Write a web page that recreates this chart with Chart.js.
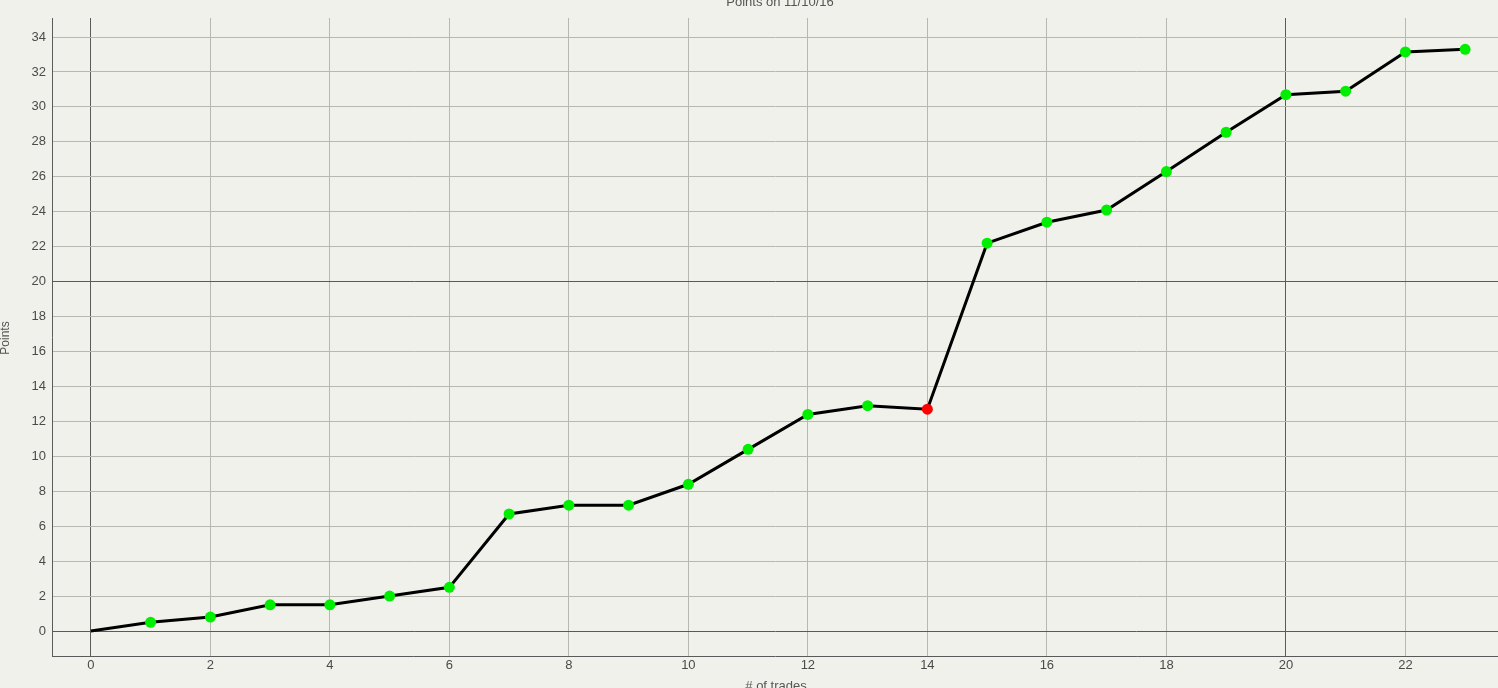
<!DOCTYPE html>
<html>
<head>
<meta charset="utf-8">
<script src="https://cdn.jsdelivr.net/npm/chart.js@4"></script>
<style>
  html, body { margin: 0; padding: 0; background: #f1f1ec; }
  #wrap { width: 1498px; height: 688px; position: relative; }
</style>
</head>
<body>
<div id="wrap"><canvas id="myChart"></canvas></div>
<script>
// datos de la gráfica
const trades = [0, 1, 2, 3, 4, 5, 6, 7, 8, 9, 10, 11, 12, 13, 14, 15, 16, 17, 18, 19, 20, 21, 22, 23];
const points = [0, 0.5, 0.8, 1.5, 1.5, 2.0, 2.5, 6.7, 7.2, 7.2, 8.4, 10.4, 12.4, 12.9, 12.7, 22.2, 23.4, 24.1, 26.3, 28.55, 30.7, 30.9, 33.15, 33.3];
const xTicks = [0, 2, 4, 6, 8, 10, 12, 14, 16, 18, 20, 22];
const yTicks = [0, 2, 4, 6, 8, 10, 12, 14, 16, 18, 20, 22, 24, 26, 28, 30, 32, 34];
const chartTitle = "Points on 11/10/16";
const xTitle = "# of trades";
const yTitle = "Points";

const FONT = "'Liberation Sans', Arial, Helvetica, sans-serif";

// verde si sube o se mantiene, rojo si baja
const pointColors = points.map((v, i) => (i > 0 && v < points[i - 1]) ? "#ff0000" : "#00ee00");
const pointRadius = points.map((v, i) => i === 0 ? 0 : 5.5);

const gridColor = ctx => (ctx.tick && (ctx.tick.value === 0 || ctx.tick.value === 20)) ? "#5a5a5a" : "#b8b8b3";

const textPlugin = {
  id: "textos",
  afterDraw(chart) {
    const c = chart.ctx;
    c.save();
    c.fillStyle = "#555";
    c.font = "13px " + FONT;
    c.textAlign = "center";
    c.textBaseline = "middle";
    c.fillText(chartTitle, 780, 2);
    c.fillText(xTitle, 776, 686);
    c.translate(6, 338);
    c.rotate(-Math.PI / 2);
    c.font = "12px " + FONT;
    c.fillText(yTitle, 0, 0);
    c.restore();
  }
};

const ctx = document.getElementById("myChart").getContext("2d");
new Chart(ctx, {
  type: "line",
  data: {
    datasets: [{
      label: "Points",
      data: trades.map((t, i) => ({ x: t, y: points[i] })),
      borderColor: "#000",
      borderWidth: 3,
      pointBackgroundColor: pointColors,
      pointBorderColor: pointColors,
      pointRadius: pointRadius,
      pointBorderWidth: 0,
      tension: 0
    }]
  },
  options: {
    responsive: true,
    maintainAspectRatio: false,
    animation: false,
    layout: { autoPadding: false, padding: { top: 18, right: 0, left: 0, bottom: 0 } },
    plugins: { legend: { display: false }, title: { display: false }, tooltip: { enabled: false } },
    scales: {
      x: {
        type: "linear",
        min: -0.65,
        max: 23.55,
        afterBuildTicks: s => { s.ticks = xTicks.map(v => ({ value: v })); },
        afterFit: s => { s.height = 32; s.paddingLeft = 0; s.paddingRight = 0; },
        grid: { color: gridColor, lineWidth: 1, drawTicks: false },
        border: { color: "#5a5a5a", width: 1 },
        ticks: { color: "#4a4a4a", font: { family: FONT, size: 13 }, padding: 2, maxRotation: 0 }
      },
      y: {
        type: "linear",
        min: -1.43,
        max: 35.09,
        afterBuildTicks: s => { s.ticks = yTicks.map(v => ({ value: v })); },
        afterFit: s => { s.width = 52; s.paddingTop = 0; s.paddingBottom = 0; },
        grid: { color: gridColor, lineWidth: 1, drawTicks: false },
        border: { color: "#5a5a5a", width: 1 },
        ticks: { color: "#4a4a4a", font: { family: FONT, size: 13 }, padding: 6 }
      }
    }
  },
  plugins: [textPlugin]
});
</script>
</body>
</html>
